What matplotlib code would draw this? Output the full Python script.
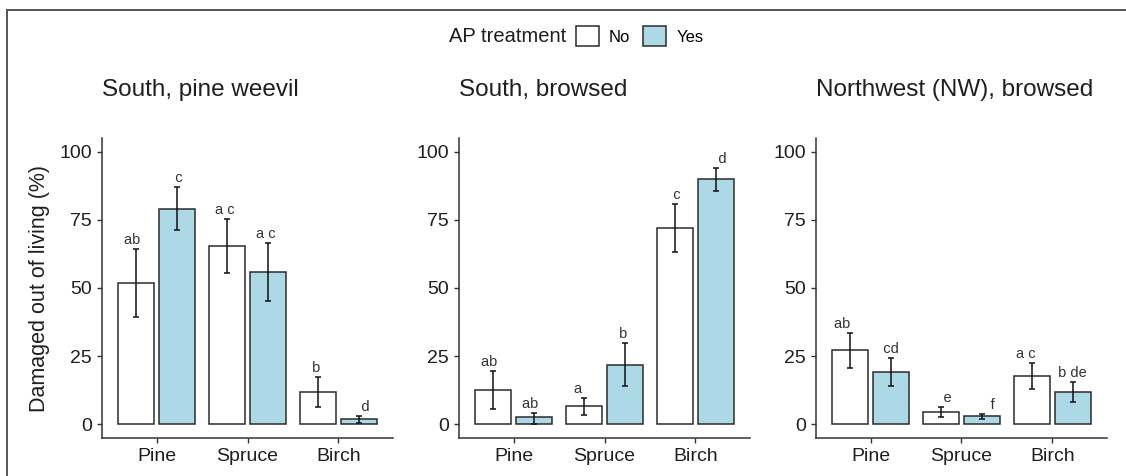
import numpy as np
import matplotlib
matplotlib.use("Agg")
from matplotlib import pyplot as plt
from matplotlib.patches import Patch
from matplotlib.lines import Line2D

plt.rcParams['font.family'] = ['Liberation Sans', 'DejaVu Sans']

species = ["Pine", "Spruce", "Birch"]
treatments = ["No", "Yes"]
panel_titles = ["South, pine weevil", "South, browsed", "Northwest (NW), browsed"]

# mean, lower, upper for (No, Yes) per species, one panel each
weevil_no = [51.8, 65.4, 11.9]
weevil_no_lo = [39.3, 55.6, 6.4]
weevil_no_hi = [64.3, 75.2, 17.5]
weevil_yes = [78.9, 55.9, 1.8]
weevil_yes_lo = [71.1, 45.3, 0.4]
weevil_yes_hi = [86.9, 66.4, 3.2]

south_no = [12.6, 6.6, 72.1]
south_no_lo = [5.8, 3.3, 63.1]
south_no_hi = [19.6, 9.8, 80.9]
south_yes = [2.6, 21.8, 89.8]
south_yes_lo = [0.1, 14.2, 85.5]
south_yes_hi = [4.2, 29.7, 94.1]

nw_no = [27.1, 4.4, 17.6]
nw_no_lo = [20.6, 2.6, 12.9]
nw_no_hi = [33.5, 6.3, 22.4]
nw_yes = [19.1, 2.9, 11.9]
nw_yes_lo = [14.1, 1.8, 8.3]
nw_yes_hi = [24.4, 3.9, 15.7]

# compact letter display (aligned strings), No then Yes per species
weevil_no_letters = ["ab  ", "a c ", " b  "]
weevil_yes_letters = ["  c ", "a c ", "   d"]
south_no_letters = ["ab  ", "a   ", "  c "]
south_yes_letters = ["ab  ", " b  ", "   d"]
nw_no_letters = ["ab    ", "    e ", "a c   "]
nw_yes_letters = ["  cd  ", "     f", " b de "]

panels = [
    (weevil_no, weevil_no_lo, weevil_no_hi, weevil_yes, weevil_yes_lo, weevil_yes_hi,
     weevil_no_letters, weevil_yes_letters),
    (south_no, south_no_lo, south_no_hi, south_yes, south_yes_lo, south_yes_hi,
     south_no_letters, south_yes_letters),
    (nw_no, nw_no_lo, nw_no_hi, nw_yes, nw_yes_lo, nw_yes_hi,
     nw_no_letters, nw_yes_letters),
]

fills = ["white", "#ADD8E6"]
dark = "#1f1f1f"
W, H = 1126, 476

fig = plt.figure(figsize=(W / 100, H / 100), dpi=100)

lefts = [102, 459, 816]
for k, (title, p) in enumerate(zip(panel_titles, panels)):
    no, no_lo, no_hi, yes, yes_lo, yes_hi, no_let, yes_let = p
    ax = fig.add_axes([lefts[k] / W, 1 - 438 / H, 291 / W, 300 / H])
    x = np.arange(1, len(species) + 1)
    groups = [(no, no_lo, no_hi, no_let), (yes, yes_lo, yes_hi, yes_let)]
    for j, (m, lo, hi, let) in enumerate(groups):
        m = np.array(m); lo = np.array(lo); hi = np.array(hi)
        xs = x + (j - 0.5) * 0.45
        ax.bar(xs, m, width=0.4, color=fills[j], edgecolor="#2b2b2b", linewidth=1.1, zorder=2)
        ax.errorbar(xs, m, yerr=[m - lo, hi - m], fmt="none", ecolor="#111111",
                    elinewidth=1.1, capsize=2, capthick=1.1, zorder=3)
        for xi, yi, s in zip(xs, hi, let):
            ax.annotate(s, (xi, yi), xytext=(0, 3.6), textcoords="offset points",
                        ha="center", va="baseline", fontsize=10.5, color="#333333")
    ax.set_xlim(0.4, 3.6)
    ax.set_ylim(-5, 105)
    ax.set_xticks(x)
    ax.set_xticklabels(species)
    ax.set_yticks([0, 25, 50, 75, 100])
    for s in ["top", "right"]:
        ax.spines[s].set_visible(False)
    for s in ["left", "bottom"]:
        ax.spines[s].set_color("#333333")
        ax.spines[s].set_linewidth(1.1)
    ax.tick_params(length=3.6, width=1.0, color="#333333", pad=3.5,
                   labelsize=14, labelcolor=dark)
    ax.set_title(title, loc="left", fontsize=17.5, color=dark, pad=30)
    if k == 0:
        ax.set_ylabel("Damaged out of living (%)", fontsize=15.5, color=dark)
        ax.yaxis.set_label_coords(-0.178, 0.5)

# legend on top
fig.text(566 / W, 1 - 36 / H, "AP treatment", ha="right", va="center",
         fontsize=14.5, color=dark)
handles = [Patch(facecolor=fills[i], edgecolor="#2b2b2b", linewidth=1.1, label=t)
           for i, t in enumerate(treatments)]
fig.legend(handles=handles, ncol=2, loc="center left",
           bbox_to_anchor=(576 / W, 1 - 36 / H), frameon=False, fontsize=12,
           handlelength=1.38, handleheight=1.38, handletextpad=0.6,
           columnspacing=0.78, borderpad=0, borderaxespad=0)

# partial frame (top and left)
fig.add_artist(Line2D([7 / W, 1], [1 - 10 / H, 1 - 10 / H], color="#555555", linewidth=1.4))
fig.add_artist(Line2D([7 / W, 7 / W], [0, 1 - 10 / H], color="#555555", linewidth=1.4))

fig.savefig("out.png", dpi=100)
